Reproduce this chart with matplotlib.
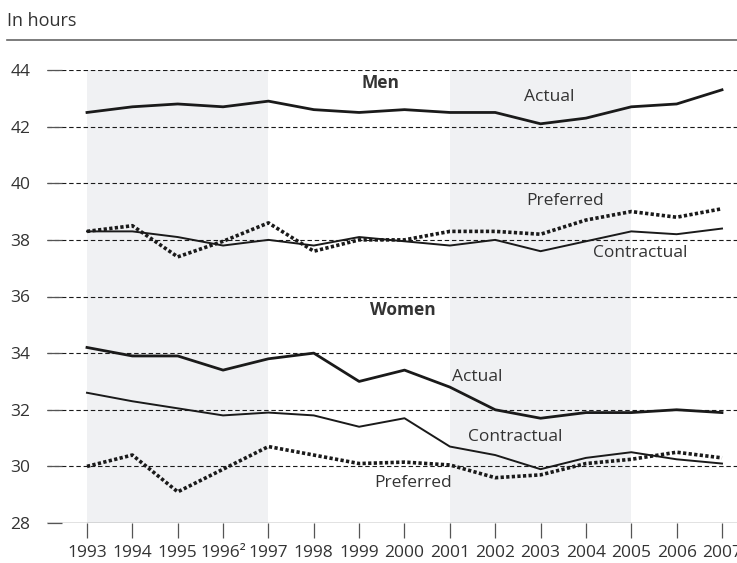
import matplotlib.pyplot as plt

plt.rcParams['font.family'] = ['Open Sans', 'DejaVu Sans']

years = list(range(1993, 2008))
year_labels = ['1993', '1994', '1995', '1996²', '1997', '1998', '1999', '2000',
               '2001', '2002', '2003', '2004', '2005', '2006', '2007']

men_actual      = [42.5, 42.7, 42.8, 42.7, 42.9, 42.6, 42.5, 42.6, 42.5, 42.5, 42.1, 42.3, 42.7, 42.8, 43.3]
men_contractual = [38.3, 38.3, 38.1, 37.8, 38.0, 37.8, 38.1, 37.95, 37.8, 38.0, 37.6, 37.95, 38.3, 38.2, 38.4]
men_preferred   = [38.3, 38.5, 37.4, 37.95, 38.6, 37.6, 38.0, 38.0, 38.3, 38.3, 38.2, 38.7, 39.0, 38.8, 39.1]

women_actual      = [34.2, 33.9, 33.9, 33.4, 33.8, 34.0, 33.0, 33.4, 32.8, 32.0, 31.7, 31.9, 31.9, 32.0, 31.9]
women_contractual = [32.6, 32.3, 32.05, 31.8, 31.9, 31.8, 31.4, 31.7, 30.7, 30.4, 29.9, 30.3, 30.5, 30.25, 30.1]
women_preferred   = [30.0, 30.4, 29.1, 29.9, 30.7, 30.4, 30.1, 30.15, 30.05, 29.6, 29.7, 30.1, 30.25, 30.5, 30.3]

shaded = [(1993, 1997), (2001, 2005)]

ink = '#1a1a1a'
txt = '#333333'

fig = plt.figure(figsize=(7.37, 5.63), dpi=100)
ax = fig.add_axes([47/737, 1 - 523/563, 690/737, 453/563])

ax.set_xlim(1993 - 40/45.36, 2007 + 15/45.36)
ax.set_ylim(28, 44)

for a, b in shaded:
    ax.axvspan(a, b, color='#f0f1f3', zorder=0, lw=0)

for y in range(30, 46, 2):
    ax.axhline(y, color=ink, lw=0.8, ls=(0, (4, 2.5)), zorder=1)

dots = (0, (0.9, 0.65))
ax.plot(years, men_actual, color=ink, lw=2.0, zorder=3)
ax.plot(years, men_contractual, color=ink, lw=1.4, zorder=3)
ax.plot(years, men_preferred, color=ink, lw=2.6, ls=dots, zorder=3)
ax.plot(years, women_actual, color=ink, lw=2.0, zorder=3)
ax.plot(years, women_contractual, color=ink, lw=1.4, zorder=3)
ax.plot(years, women_preferred, color=ink, lw=2.6, ls=dots, zorder=3)

ax.axhline(28, color=ink, lw=0.9, zorder=2)

for s in ax.spines.values():
    s.set_visible(False)

ax.set_yticks(range(28, 46, 2))
ax.tick_params(axis='y', direction='in', length=11, width=0.9, color='#555555',
               pad=12, labelsize=12.5, labelcolor=txt)
ax.set_xticks(years)
ax.set_xticklabels(year_labels)
ax.tick_params(axis='x', direction='out', length=11, width=0.9, color='#555555',
               pad=5, labelsize=12.5, labelcolor=txt)

# series labels
fs = 12.5
ax.text(1999.46, 43.54, 'Men', fontsize=fs, fontweight='bold', color=txt, ha='center', va='center')
ax.text(2003.2, 43.05, 'Actual', fontsize=fs, color=txt, ha='center', va='center')
ax.text(2003.55, 39.38, 'Preferred', fontsize=fs, color=txt, ha='center', va='center')
ax.text(2005.19, 37.55, 'Contractual', fontsize=fs, color=txt, ha='center', va='center')
ax.text(1999.96, 35.54, 'Women', fontsize=fs, fontweight='bold', color=txt, ha='center', va='center')
ax.text(2001.6, 33.16, 'Actual', fontsize=fs, color=txt, ha='center', va='center')
ax.text(2002.44, 31.02, 'Contractual', fontsize=fs, color=txt, ha='center', va='center')
ax.text(2000.19, 29.42, 'Preferred', fontsize=fs, color=txt, ha='center', va='center')

fig.text(7/737, 1 - 21/563, 'In hours', fontsize=13, color=txt, ha='left', va='center')
fig.add_artist(plt.Line2D([7/737, 1], [1 - 40/563, 1 - 40/563], color='#666666', lw=1.2))

fig.savefig('out.png', dpi=100)
